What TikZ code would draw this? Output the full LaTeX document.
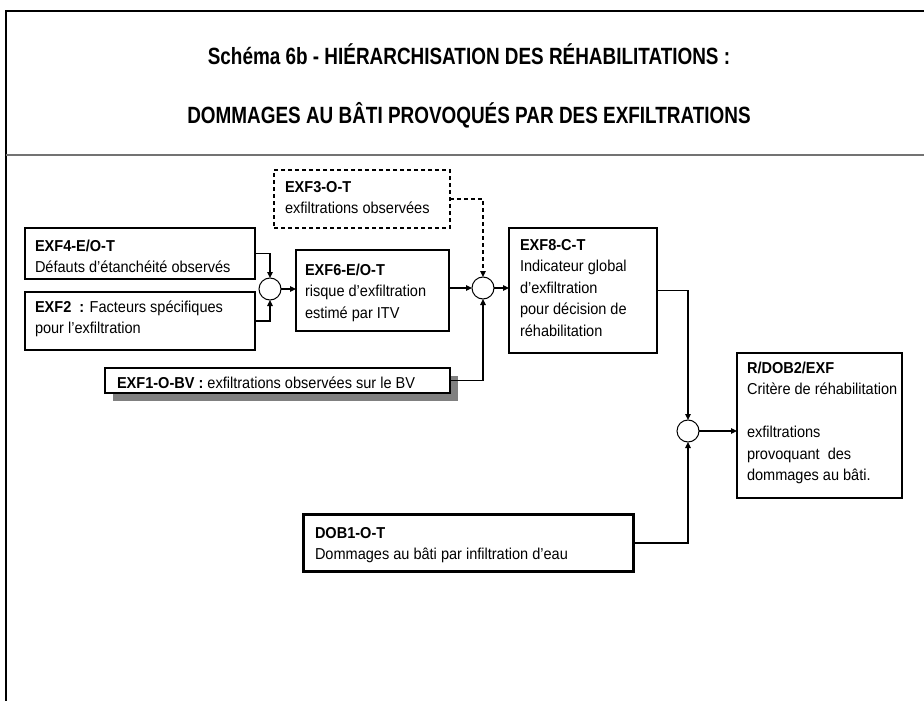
\documentclass[tikz,border=0pt]{standalone}
\usepackage{fontspec}
\setmainfont[FakeStretch=0.92]{Liberation Sans}
\newfontfamily\titlefont[FakeStretch=0.805]{Liberation Sans}
\usetikzlibrary{arrows.meta,calc}
\begin{document}
\begin{tikzpicture}[x=1pt,y=-1pt,
  boxst/.style={draw, line width=1.2pt, fill=white, inner sep=0pt, outer sep=0pt},
  dashbox/.style={boxst, dash pattern=on 4pt off 3pt},
  thickbox/.style={boxst, line width=3.3pt},
  txt/.style={anchor=north west, inner sep=0pt, outer sep=0pt, align=left, font=\fontsize{15.8}{21.5}\selectfont},
  ttl/.style={anchor=base, inner sep=0pt, font=\titlefont\bfseries\fontsize{23.5}{28}\selectfont},
  junc/.style={circle, draw, line width=1pt, minimum size=22pt, inner sep=0pt, outer sep=0pt, fill=white},
  arr/.style={line width=1.1pt, -{Triangle[length=6pt,width=5.5pt]}},
  dasharr/.style={arr, dash pattern=on 4pt off 3pt},
  shadowst/.style={fill=black!50, draw=none},
]
\useasboundingbox (0,0) rectangle (924,701);
% frame
\draw[line width=2.2pt, line join=miter] (6,701) -- (6,11) -- (924,11);
\draw[line width=2.2pt, black!55] (6,155) -- (924,155);
% titles
\node[ttl] (t1) at (469,65) {Schéma 6b - HIÉRARCHISATION DES RÉHABILITATIONS :};
\node[ttl] (t2) at (469,123) {DOMMAGES AU BÂTI PROVOQUÉS PAR DES EXFILTRATIONS};
% boxes
\node[dashbox, minimum width=176pt, minimum height=58pt] (exf3) at (362,199) {};
\node[boxst, minimum width=230pt, minimum height=51pt] (exf4) at (140,253.5) {};
\node[boxst, minimum width=230pt, minimum height=58pt] (exf2) at (140,321) {};
\node[boxst, minimum width=153pt, minimum height=81pt] (exf6) at (372.5,290.5) {};
\node[boxst, minimum width=148pt, minimum height=125pt] (exf8) at (583,290.5) {};
\fill[shadowst] (113,376) rectangle (458,401);
\node[boxst, minimum width=345pt, minimum height=25pt] (exf1) at (277.5,380.5) {};
\node[boxst, minimum width=165pt, minimum height=145pt] (rdob) at (819.5,425.5) {};
\node[thickbox, minimum width=329.7pt, minimum height=56.7pt] (dob1) at (468.5,543) {};
% junctions
\node[junc] (c1) at (270,289) {};
\node[junc] (c2) at (483,288) {};
\node[junc] (c3) at (688,431) {};
% texts
\node[txt] (exf3t) at (285,180.5) {\rule{0pt}{11.5pt}\textbf{EXF3-O-T}\\exfiltrations observées};
\node[txt] (exf4t) at (35,239.5) {\rule{0pt}{11.5pt}\textbf{EXF4-E/O-T}\\Défauts d’étanchéité observés};
\node[txt] (exf2t) at (35,300.5) {\rule{0pt}{11.5pt}\textbf{EXF2~~:} Facteurs spécifiques\\pour l’exfiltration};
\node[txt] (exf6t) at (305,263.5) {\rule{0pt}{11.5pt}\textbf{EXF6-E/O-T}\\risque d’exfiltration\\estimé par ITV};
\node[txt] (exf8t) at (520,238.5) {\rule{0pt}{11.5pt}\textbf{EXF8-C-T}\\Indicateur global\\d’exfiltration\\pour décision de\\réhabilitation};
\node[txt] (exf1t) at (117,376.5) {\rule{0pt}{11.5pt}\textbf{EXF1-O-BV :} exfiltrations observées sur le BV};
\node[txt] (rdobt) at (747,361.5) {\rule{0pt}{11.5pt}\textbf{R/DOB2/EXF}\\Critère de réhabilitation\\[21.5pt]exfiltrations\\provoquant~ des\\dommages au bâti.};
\node[txt] (dob1t) at (315,526.5) {\rule{0pt}{11.5pt}\textbf{DOB1-O-T}\\Dommages au bâti par infiltration d’eau};
% connectors
\draw[arr] (exf4.east) -| (c1.north);
\draw[arr] (exf2.east) -| (c1.south);
\draw[arr] (c1.east) -- (c1.east -| exf6.west);
\draw[dasharr] (exf3.east) -| (c2.north);
\draw[arr] (c2.west -| exf6.east) -- (c2.west);
\draw[arr] (exf1.east) -| (c2.south);
\draw[arr] (c2.east) -- (c2.east -| exf8.west);
\draw[arr] (exf8.east) -| (c3.north);
\draw[arr] (dob1.east) -| (c3.south);
\draw[arr] (c3.east) -- (c3.east -| rdob.west);
\end{tikzpicture}
\end{document}
